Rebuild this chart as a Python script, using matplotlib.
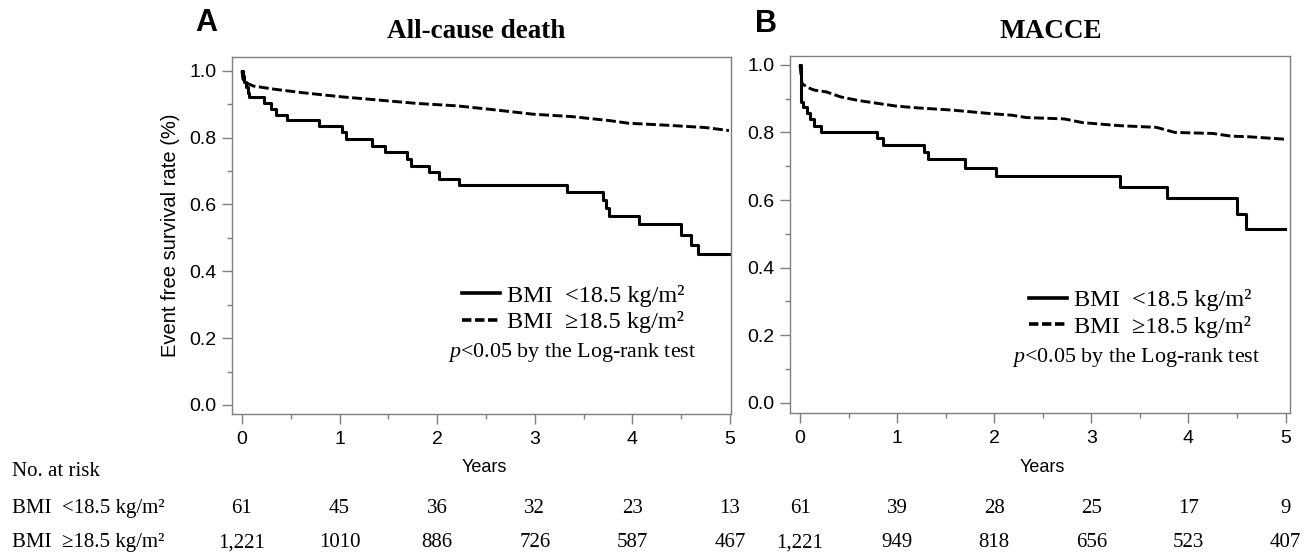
import matplotlib
matplotlib.use('Agg')
import matplotlib.pyplot as plt
from matplotlib.transforms import blended_transform_factory
from matplotlib.lines import Line2D

# ── Data ─────────────────────────────────────────────────────────────────────
# Panel A: all-cause death
a_low_t = [0.0, 0.01, 0.02, 0.04, 0.06, 0.07, 0.224, 0.294, 0.353, 0.463, 0.792,
           1.02, 1.067, 1.333, 1.463, 1.694, 1.729, 1.92, 2.02, 2.227, 3.333,
           3.698, 3.725, 3.765, 4.07, 4.498, 4.596, 4.667, 4.99]
a_low_s = [1.0, 0.984, 0.967, 0.951, 0.934, 0.920, 0.902, 0.886, 0.869, 0.852, 0.835,
           0.818, 0.797, 0.776, 0.756, 0.735, 0.716, 0.697, 0.677, 0.658, 0.636,
           0.612, 0.589, 0.566, 0.541, 0.509, 0.480, 0.452, 0.452]
a_high_t = [0.0, 0.01, 0.04, 0.12, 0.35, 0.63, 1.02, 1.41, 1.80, 2.20, 2.59, 2.98,
            3.37, 3.76, 3.96, 4.35, 4.75, 4.99]
a_high_s = [1.0, 0.975, 0.964, 0.954, 0.944, 0.934, 0.922, 0.912, 0.902, 0.895, 0.883,
            0.870, 0.863, 0.851, 0.843, 0.837, 0.830, 0.821]

# Panel B: MACCE
b_low_t = [0.0, 0.01, 0.035, 0.069, 0.10, 0.14, 0.216, 0.79, 0.85, 1.28, 1.32,
           1.695, 2.02, 3.30, 3.776, 4.50, 4.59, 4.99]
b_low_s = [1.0, 0.889, 0.874, 0.857, 0.841, 0.820, 0.802, 0.783, 0.764, 0.742, 0.720,
           0.696, 0.671, 0.640, 0.605, 0.559, 0.513, 0.513]
b_high_t = [0.0, 0.02, 0.077, 0.15, 0.27, 0.42, 0.61, 0.80, 0.99, 1.19, 1.57, 1.95,
            2.18, 2.33, 2.72, 2.91, 3.29, 3.67, 3.86, 4.25, 4.44, 4.63, 4.99]
b_high_s = [1.0, 0.945, 0.933, 0.925, 0.920, 0.905, 0.894, 0.886, 0.878, 0.873, 0.866,
            0.856, 0.851, 0.844, 0.840, 0.829, 0.820, 0.815, 0.800, 0.797, 0.789,
            0.787, 0.780]

risk_years = [0, 1, 2, 3, 4, 5]
a_risk_low = ['61', '45', '36', '32', '23', '13']
a_risk_high = ['1,221', '1010', '886', '726', '587', '467']
b_risk_low = ['61', '39', '28', '25', '17', '9']
b_risk_high = ['1,221', '949', '818', '656', '523', '407']

LABEL_LOW = 'BMI  <18.5 kg/m²'
LABEL_HIGH = 'BMI  ≥18.5 kg/m²'

# ── Style ────────────────────────────────────────────────────────────────────
SANS = 'Liberation Sans'
SERIF = 'Liberation Serif'
GREY = '#7f7f7f'
plt.rcParams.update({
    'font.family': SANS,
    'mathtext.fontset': 'custom',
    'mathtext.rm': SERIF,
    'mathtext.it': SERIF + ':italic',
    'axes.edgecolor': GREY,
    'axes.linewidth': 1.0,
    'xtick.color': GREY,
    'ytick.color': GREY,
    'xtick.labelcolor': 'black',
    'ytick.labelcolor': 'black',
    'xtick.labelsize': 14,
    'ytick.labelsize': 14,
})

W, H = 1311, 556
fig = plt.figure(figsize=(W / 100, H / 100), dpi=100)


def px_axes(l, r, t, b):
    return fig.add_axes([l / W, 1 - b / H, (r - l) / W, (b - t) / H])


ax_a = px_axes(232, 731, 56.7, 414)
ax_b = px_axes(790, 1290, 55.7, 413.3)


def style_ax(ax, xlim, ylim, years_xy):
    ax.set_xlim(*xlim)
    ax.set_ylim(*ylim)
    ax.set_xticks(range(6))
    ax.set_xticks([0.5, 1.5, 2.5, 3.5, 4.5], minor=True)
    ax.set_yticks([0.0, 0.2, 0.4, 0.6, 0.8, 1.0])
    ax.set_yticks([0.1, 0.3, 0.5, 0.7, 0.9], minor=True)
    ax.set_yticklabels(['0.0', '0.2', '0.4', '0.6', '0.8', '1.0'])
    ax.tick_params(which='major', length=7, width=1.0)
    ax.tick_params(axis='x', which='major', pad=5)
    ax.tick_params(axis='y', which='major', pad=4)
    ax.tick_params(which='minor', length=3.5, width=1.0)
    ax.set_xlabel('Years', fontsize=13, va='center')
    ax.xaxis.set_label_coords(*years_xy)


def draw_panel(ax, lt, ls, ht, hs, legend_xy, ptext_xy):
    ax.step(lt, ls, where='post', color='black', linewidth=2.2)
    ax.plot(ht, hs, color='black', linewidth=2.1, dashes=(3.4, 1.2))
    handles = [Line2D([], [], color='black', linewidth=2.6),
               Line2D([], [], color='black', linewidth=2.6, dashes=(2.6, 1.0))]
    ax.legend(handles, [LABEL_LOW, LABEL_HIGH], loc='center left',
              bbox_to_anchor=legend_xy, frameon=False, borderpad=0,
              borderaxespad=0, handlelength=1.55, handletextpad=0.3,
              labelspacing=0.2, prop={'family': SERIF, 'size': 17.5})
    ax.text(*ptext_xy, '$p$<0.05 by the Log-rank test', transform=ax.transAxes,
            ha='center', va='center', fontsize=15.8, family=SERIF)


style_ax(ax_a, (-0.102, 5.01), (-0.027, 1.042), (0.505, -0.150))
style_ax(ax_b, (-0.103, 5.046), (-0.031, 1.027), (0.504, -0.152))
draw_panel(ax_a, a_low_t, a_low_s, a_high_t, a_high_s, (0.461, 0.294), (0.681, 0.171))
draw_panel(ax_b, b_low_t, b_low_s, b_high_t, b_high_s, (0.478, 0.279), (0.692, 0.157))

ax_a.set_ylabel('Event free survival rate (%)', fontsize=14.5, labelpad=7)

# Panel letters and titles
fig.text(195 / W, 1 - 23 / H, 'A', fontsize=22, fontweight='bold', va='center', family=SANS)
fig.text(755 / W, 1 - 24 / H, 'B', fontsize=22, fontweight='bold', va='center', family=SANS)
fig.text(476 / W, 1 - 32 / H, 'All-cause death', fontsize=19.5, fontweight='bold',
         ha='center', va='center', family=SERIF)
fig.text(1051 / W, 1 - 31 / H, 'MACCE', fontsize=19.5, fontweight='bold',
         ha='center', va='center', family=SERIF)

# ── Number at risk table ─────────────────────────────────────────────────────
ROW_HEAD, ROW_LOW, ROW_HIGH = 1 - 472 / H, 1 - 508.5 / H, 1 - 542.7 / H
fig.text(12 / W, ROW_HEAD, 'No. at risk', fontsize=15, family=SERIF, va='center')
fig.text(12 / W, ROW_LOW, LABEL_LOW, fontsize=15, family=SERIF, va='center')
fig.text(12 / W, ROW_HIGH, LABEL_HIGH, fontsize=15, family=SERIF, va='center')

for ax, low, high in [(ax_a, a_risk_low, a_risk_high), (ax_b, b_risk_low, b_risk_high)]:
    tr = blended_transform_factory(ax.transData, fig.transFigure)
    for yr, n_low, n_high in zip(risk_years, low, high):
        ax.text(yr, ROW_LOW, n_low, transform=tr, ha='center', va='center',
                fontsize=15, family=SERIF, clip_on=False)
        ax.text(yr, ROW_HIGH, n_high, transform=tr, ha='center', va='center',
                fontsize=15, family=SERIF, clip_on=False)

fig.savefig('out.png', dpi=100, facecolor='white')
